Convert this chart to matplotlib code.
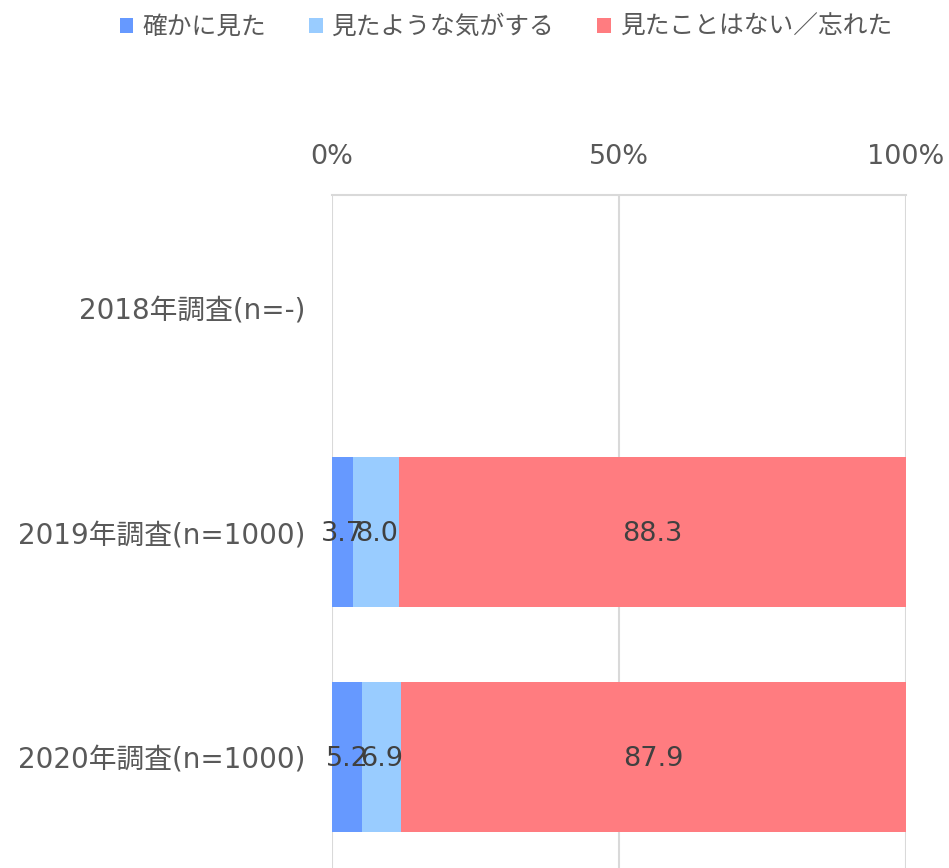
import matplotlib.pyplot as plt
import numpy as np

plt.rcParams['font.family'] = ['DejaVu Sans', 'Noto Sans CJK JP']

categories = ["2018年調査(n=-)", "2019年調査(n=1000)", "2020年調査(n=1000)"]
series_names = ["確かに見た", "見たような気がする", "見たことはない／忘れた"]
seen = [np.nan, 3.7, 5.2]
maybe = [np.nan, 8.0, 6.9]
never = [np.nan, 88.3, 87.9]
colors = ["#6699FF", "#99CCFF", "#FF7C80"]
ticks = [0, 50, 100]
tick_labels = ["0%", "50%", "100%"]

W, H = 949, 868
fig = plt.figure(figsize=(W / 100, H / 100), dpi=100)
ax = fig.add_axes([332 / W, 0, (906 - 332) / W, (868 - 195) / H])

y = np.arange(len(categories))
left = np.zeros(len(categories))
handles = []
for vals, name, c in zip([seen, maybe, never], series_names, colors):
    v = np.nan_to_num(np.array(vals, dtype=float))
    bars = ax.barh(y, v, left=left, height=0.667, color=c, label=name, zorder=2)
    handles.append(bars)
    for i, val in enumerate(vals):
        if not np.isnan(val):
            ax.text(left[i] + v[i] / 2, y[i] + 0.01, f"{val:.1f}", ha="center", va="center",
                    fontsize=19.5, color="#404040", zorder=3)
    left += v

ax.set_xlim(0, 100)
ax.set_ylim(2.494, -0.5)
ax.set_yticks(y)
ax.set_yticklabels(categories, fontsize=20, color="#595959")
ax.xaxis.tick_top()
ax.set_xticks(ticks)
ax.set_xticklabels(tick_labels, fontsize=19.5, color="#595959")
ax.tick_params(axis="both", length=0)
ax.tick_params(axis="x", pad=18)
ax.tick_params(axis="y", pad=19)
ax.grid(axis="x", color="#D9D9D9", linewidth=1.5, zorder=0)
for side in ["right", "bottom", "left"]:
    ax.spines[side].set_visible(False)
ax.spines["top"].set_color("#D9D9D9")
ax.spines["top"].set_linewidth(1.5)

fig.legend(handles=handles, labels=series_names, loc="center", bbox_to_anchor=(0.533, 1 - 27 / H),
           ncol=3, frameon=False, fontsize=17.8, handlelength=0.55, handleheight=0.55,
           handletextpad=0.35, columnspacing=1.75, labelcolor="#595959")

fig.savefig("out.png", dpi=100)
